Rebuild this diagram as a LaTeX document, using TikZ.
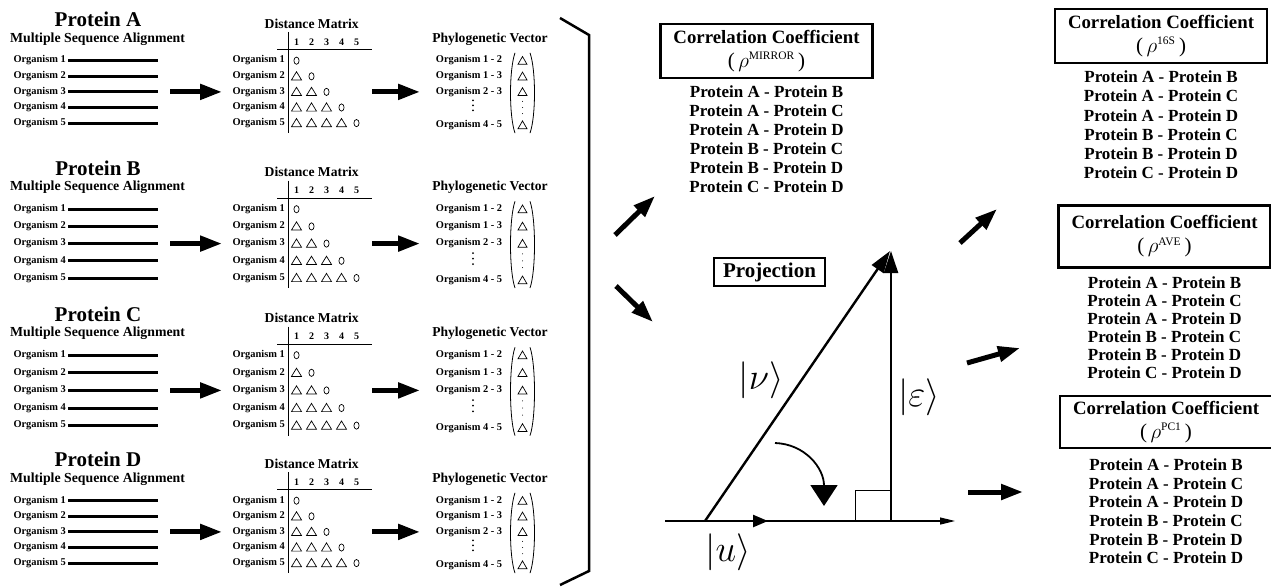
\documentclass[tikz,border=0pt]{standalone}
\usepackage{fix-cm}
\usepackage{fontspec}
\setmainfont{Liberation Serif}
\usepackage{tikz}
\usetikzlibrary{arrows.meta,calc}

\begin{document}
\begin{tikzpicture}[x=1pt, y=-1pt,
    ptitle/.style={font=\bfseries\fontsize{21}{24}\selectfont, inner sep=0},
    msa/.style={font=\bfseries\fontsize{13.8}{16}\selectfont, inner sep=0},
    dmt/.style={font=\bfseries\fontsize{13.6}{16}\selectfont, inner sep=0},
    org/.style={font=\bfseries\fontsize{10.4}{12}\selectfont, inner sep=0},
    hdr/.style={font=\bfseries\fontsize{10}{12}\selectfont, inner sep=0},
    seqline/.style={line width=3pt},
    cell/.style={line width=0.7pt},
    paren/.style={line width=0.8pt},
    blockarrow/.style={line width=5pt, -{Triangle[length=22pt, width=15pt]}},
    ccbox/.style={draw, line width=2.5pt, minimum width=212pt, align=center, inner sep=0,
        font=\bfseries\fontsize{18.8}{24}\selectfont},
    pair/.style={font=\bfseries\fontsize{17}{19}\selectfont, inner sep=0, anchor=base},
    vec/.style={line width=2.4pt, -{Triangle[length=22pt, width=14pt]}},
    ket/.style={font=\fontsize{37}{42}\selectfont, inner sep=0}]
    \useasboundingbox (0,0) rectangle (1271,586);

    \foreach \p/\dy/\rowgap in {A/0/15.6, B/148.5/17.2, C/294.5/17.6, D/440/15.6} {
    \begin{scope}[yshift=-\dy pt]
        \pgfmathsetmacro\rowmid{60.7+2*\rowgap}
        \pgfmathsetmacro\rowlast{60.7+4*\rowgap}
        \node[ptitle] (title-\p) at (98,19.5) {Protein \p};
        \node[msa] (msa-\p) at (97.5,39) {Multiple Sequence Alignment};
        \node[dmt] (dm-\p) at (311.7,23.5) {Distance Matrix};
        \node[dmt] (pv-\p) at (490,39) {Phylogenetic Vector};
        \foreach \i in {1,...,5} {
            \pgfmathsetmacro\ry{60.7+(\i-1)*\rowgap}
            \node[org, anchor=mid east] (seq-\p-\i) at (66,\ry) {Organism \i};
            \draw[seqline] (68,\ry) -- (158,\ry);
            \node[org, anchor=mid east] (row-\p-\i) at (285,\ry) {Organism \i};
            \node[hdr] (col-\p-\i) at ({281.5+15*\i},42) {\i};
            \foreach \j in {1,...,\i} {
                \pgfmathsetmacro\cx{281.5+15*\j}
                \ifnum\j=\i
                    \draw[cell] (\cx,\ry) ellipse [x radius=2.6pt, y radius=3.6pt];
                \else
                    \draw[cell] ({\cx-5},{\ry+3.6}) -- ({\cx+5},{\ry+3.6}) -- (\cx,{\ry-4.6}) -- cycle;
                \fi
            }
        }
        \draw[line width=0.9pt] (288,32) -- (288,{\rowlast+10});
        \draw[line width=0.9pt] (277,49.5) -- (372,49.5);
        \coordinate (a1s-\p) at (170,\rowmid);
        \coordinate (a1e-\p) at (222,\rowmid);
        \coordinate (a2s-\p) at (372,\rowmid);
        \coordinate (a2e-\p) at (420,\rowmid);
        \draw[blockarrow] (a1s-\p) -- (a1e-\p);
        \draw[blockarrow] (a2s-\p) -- (a2e-\p);
        \foreach \a/\b/\k in {1/2/0, 1/3/1, 2/3/2, 4/5/4.13} {
            \pgfmathsetmacro\ry{60.7+\k*\rowgap}
            \node[org, anchor=mid] (pair-\p-\a\b) at (469,\ry) {Organism \a{} - \b};
            \draw[cell] (518,{\ry+3.6}) -- (527,{\ry+3.6}) -- (522.5,{\ry-4.2}) -- cycle;
        }
        \foreach \k in {2.55,2.87,3.19} {\fill (473,{60.7+\k*\rowgap}) circle [radius=1pt];}
        \foreach \k in {2.6,3.0,3.4} {\fill (522.5,{60.7+\k*\rowgap}) circle [radius=0.5pt];}
        \draw[paren] (515,{53-0.01*\rowgap}) .. controls (509,70) and (509,{\rowlast-7}) .. (515,{\rowlast+10});
        \draw[paren] (530,{53-0.01*\rowgap}) .. controls (536,70) and (536,{\rowlast-7}) .. (530,{\rowlast+10});
    \end{scope}
    }

    \draw[line width=2.5pt] (560,18) -- (589,35) -- (589,571) -- (560,585);

    \coordinate (m1s) at (615,235);
    \coordinate (m1e) at (655,196);
    \coordinate (m2s) at (616,286);
    \coordinate (m2e) at (653,322);
    \coordinate (r1s) at (960,243);
    \coordinate (r1e) at (997,209);
    \coordinate (r2s) at (967,363);
    \coordinate (r2e) at (1020,348);
    \coordinate (r3s) at (968,492);
    \coordinate (r3e) at (1023,492);
    \foreach \s/\e in {m1s/m1e, m2s/m2e, r1s/r1e, r2s/r2e, r3s/r3e} {\draw[blockarrow] (\s) -- (\e);}

    \foreach \n/\supx/\cx/\cy/\h/\ly/\dl in {mir/MIRROR/766.5/51/54/92/19, s16/16S/1161/36/54/77/19.2,
        ave/AVE/1164.5/236.5/62/283/18, pc1/PC1/1166/422/52/465/18.6} {
        \node[ccbox, minimum height=\h pt] (cc-\n) at (\cx,\cy) {Correlation Coefficient\\
            {\mdseries\fontsize{21}{24}\selectfont (\,$\rho^{\hbox{\fontsize{11.5}{13}\selectfont\supx}}$\,)}};
        \foreach \a/\b [count=\k] in {A/B, A/C, A/D, B/C, B/D, C/D} {
            \node[pair] (cc-\n-\k) at (\cx,{\ly+5.6+(\k-1)*\dl}) {Protein \a{} - Protein \b};
        }
    }

    \coordinate (o) at (705,521);
    \coordinate (axl) at (665,521);
    \coordinate (axr) at (955,521);
    \coordinate (ut) at (768,521);
    \coordinate (vt) at (890,251);
    \coordinate (ef) at (891,521);
    \coordinate (et) at (891,251);
    \draw[line width=1.2pt, -{Triangle[length=15pt, width=7pt]}] (axl) -- (axr);
    \draw[line width=0.9pt] (855,521) -- (855,490) -- (891,490);
    \draw[vec] (o) -- (vt);
    \draw[vec] (ef) -- (et);
    \draw[line width=2.4pt, -{Triangle[length=15pt, width=12pt]}] (o) -- (ut);
    \draw[line width=1.8pt, -{Triangle[length=21pt, width=27pt]}] (775,443) .. controls (805,444) and (824,468) .. (824,506);
    \node[draw, line width=2pt, minimum width=111pt, minimum height=28pt, inner sep=0,
        font=\bfseries\fontsize{21}{24}\selectfont] (proj) at (769.5,272) {Projection};
    \node[ket] (ket-v) at (761,380) {$|\nu\rangle$};
    \node[ket] (ket-e) at (919,397.5) {$|\varepsilon\rangle$};
    \node[ket] (ket-u) at (728,552.5) {$|u\rangle$};
\end{tikzpicture}
\end{document}
